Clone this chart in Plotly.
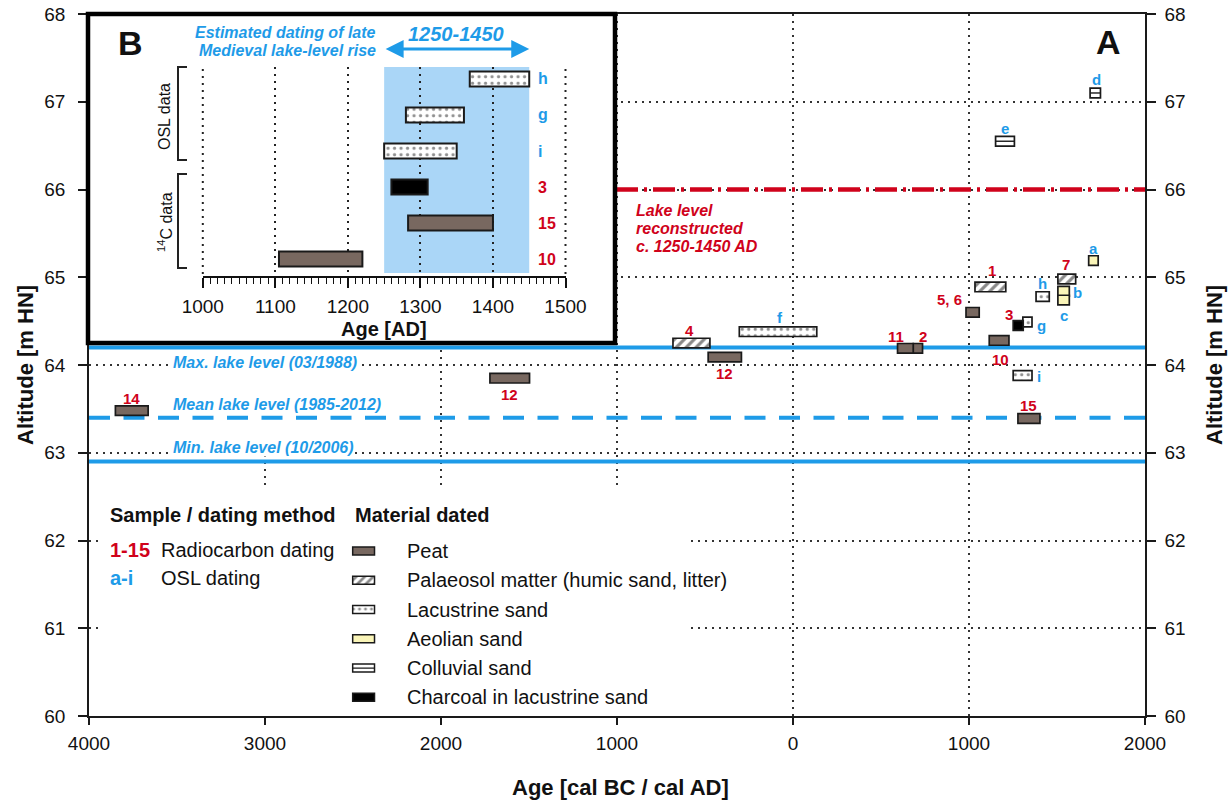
import plotly.graph_objects as go

W, H = 1231, 805

# ---------------------------------------------------------------- data
# Panel A - radiocarbon samples (ages: negative = cal BC, positive = cal AD)
rc_label = ['1', '2', '3', '4', '5, 6', '7', '10', '11', '12', '12', '14', '15']
rc_start = [1034, 683, 1251, -682, 983, 1505, 1115, 594, -1722, -482, -3850, 1278]
rc_end = [1209, 736, 1308, -472, 1058, 1606, 1227, 683, -1497, -293, -3664, 1403]
rc_alt = [64.89, 64.19, 64.45, 64.25, 64.60, 64.98, 64.28, 64.19, 63.85, 64.09, 63.48, 63.39]
rc_material = ['Palaeosol', 'Peat', 'Charcoal', 'Palaeosol', 'Peat', 'Palaeosol',
               'Peat', 'Peat', 'Peat', 'Peat', 'Peat', 'Peat']

# Panel A - OSL samples
osl_label = ['a', 'b', 'c', 'd', 'e', 'f', 'g', 'h', 'i']
osl_start = [1680, 1505, 1505, 1688, 1151, -305, 1306, 1381, 1251]
osl_end = [1734, 1570, 1570, 1747, 1258, 135, 1358, 1456, 1358]
osl_alt = [65.19, 64.84, 64.74, 67.10, 66.55, 64.38, 64.49, 64.78, 63.88]
osl_material = ['Aeolian', 'Aeolian', 'Aeolian', 'Colluvial', 'Colluvial',
                'Lacustrine', 'Lacustrine', 'Lacustrine', 'Lacustrine']

# lake levels [m HN]
lake_max = 64.2
lake_mean = 63.4
lake_min = 62.9
lake_recon = 66.0

# Panel B - late medieval samples
b_label = ['h', 'g', 'i', '3', '15', '10']
b_start = [1368, 1280, 1250, 1260, 1283, 1105]
b_end = [1450, 1360, 1350, 1310, 1400, 1220]
b_material = ['Lacustrine', 'Lacustrine', 'Lacustrine', 'Charcoal', 'Peat', 'Peat']
b_method = ['OSL', 'OSL', 'OSL', '14C', '14C', '14C']
rise_period = [1250, 1450]

material_key = ['Peat', 'Palaeosol', 'Lacustrine', 'Aeolian', 'Colluvial', 'Charcoal']
material_name = ['Peat', 'Palaeosol matter (humic sand, litter)', 'Lacustrine sand',
                 'Aeolian sand', 'Colluvial sand', 'Charcoal in lacustrine sand']

x_tickvals = [-4000, -3000, -2000, -1000, 0, 1000, 2000]
x_ticktext = ['4000', '3000', '2000', '1000', '0', '1000', '2000']
y_tickvals = [60, 61, 62, 63, 64, 65, 66, 67, 68]
b_tickvals = [1000, 1100, 1200, 1300, 1400, 1500]

# ---------------------------------------------------------------- style
FONT = 'Arial, "Liberation Sans", Helvetica, sans-serif'
BLUE = '#1e9be8'
RED = '#d0021b'
INK = '#1a1a1a'
GRID_DASH = '2px,5px'

STYLE = {
    'Peat': dict(color='#786860'),
    'Palaeosol': dict(color='white', pattern=dict(shape='/', fgcolor='#111', bgcolor='white',
                                                  size=7, solidity=0.45)),
    'Lacustrine': dict(color='white', pattern=dict(shape='.', fgcolor='#222', bgcolor='white',
                                                   size=6.5, solidity=0.2)),
    'Aeolian': dict(color='#faf5b8'),
    'Colluvial': dict(color='white'),
    'Charcoal': dict(color='#000000'),
}

# label offsets (px) relative to bar centre: (dx, dy), dy positive = down
LABEL_OFFSET = {
    '1': (2, -16), '2': (5, -12), '3': (-9, -11), '4': (-2, -13), '5, 6': (-23, -13),
    '7': (-1, -15), '10': (1, 19), '11': (-9, -12), '12': (0, 16), '14': (0, -12),
    '15': (0, -13), 'a': (0, -12), 'b': (14, 1), 'c': (0, 15), 'd': (1, -13),
    'e': (0, -13), 'f': (2, -14), 'g': (14, 3), 'h': (0, -13), 'i': (16, 1),
}

# ---------------------------------------------------------------- geometry
MX0, MX1, MY0, MY1 = 89, 1145, 14, 716         # main plot area (px)
X_RANGE = [-4000, 2000]
Y_RANGE = [60, 68]

BX0, BX1 = 202.8, 565.5                          # inset x 1000 / 1500 (px)
B_XRANGE = [1000, 1500]
B_ROW_TOP, B_ROW_BOT = 79, 259                   # rows 5 and 0 (px)
B_TOP, B_BOT = 67, 276

LX0, LX1 = 352.7, 374.5                          # legend swatches (px)
L_ROW_TOP, L_ROW_BOT = 551, 697.3
L_TOP, L_BOT = 540, 708


def px(x):
    return x / W


def py(y):
    return 1 - y / H


def xdat(p):
    return X_RANGE[0] + (p - MX0) / (MX1 - MX0) * (X_RANGE[1] - X_RANGE[0])


def ydat(p):
    return Y_RANGE[1] - (p - MY0) / (MY1 - MY0) * (Y_RANGE[1] - Y_RANGE[0])


def b_xpix(v):
    return BX0 + (v - B_XRANGE[0]) / (B_XRANGE[1] - B_XRANGE[0]) * (BX1 - BX0)


b_unit = (B_ROW_BOT - B_ROW_TOP) / 5.0


def b_ydat(p):
    return (B_ROW_BOT - p) / b_unit


l_unit = (L_ROW_BOT - L_ROW_TOP) / 5.0


def l_ydat(p):
    return (L_ROW_BOT - p) / l_unit


fig = go.Figure()

# ---------------------------------------------------------------- masks (hide grid under inset/legend)
masks = [
    (MX0, 616, 14, 343),
    (100, 688, 490, MY1),
]
for (a, b, c, d) in masks:
    xs = [xdat(a), xdat(b), xdat(b), xdat(a), xdat(a)]
    ys = [ydat(c), ydat(c), ydat(d), ydat(d), ydat(c)]
    fig.add_trace(go.Scatter(x=xs, y=ys, fill='toself', fillcolor='white', mode='none',
                             xaxis='x', yaxis='y', hoverinfo='skip', showlegend=False))
# strip hiding the 3000 BC grid line between min and max lake level
fig.add_trace(go.Scatter(x=[-3025, -2975, -2975, -3025, -3025],
                         y=[63.0, 63.0, lake_max, lake_max, 63.0],
                         fill='toself', fillcolor='white', mode='none',
                         xaxis='x', yaxis='y', hoverinfo='skip', showlegend=False))

# ---------------------------------------------------------------- lake levels
fig.add_trace(go.Scatter(x=X_RANGE, y=[lake_max, lake_max], mode='lines',
                         line=dict(color=BLUE, width=4), xaxis='x', yaxis='y',
                         hoverinfo='skip', showlegend=False))
fig.add_trace(go.Scatter(x=X_RANGE, y=[lake_mean, lake_mean], mode='lines',
                         line=dict(color=BLUE, width=4, dash='21px,13.5px'), xaxis='x', yaxis='y',
                         hoverinfo='skip', showlegend=False))
fig.add_trace(go.Scatter(x=X_RANGE, y=[lake_min, lake_min], mode='lines',
                         line=dict(color=BLUE, width=4), xaxis='x', yaxis='y',
                         hoverinfo='skip', showlegend=False))
fig.add_trace(go.Scatter(x=[xdat(616), X_RANGE[1]], y=[lake_recon, lake_recon], mode='lines',
                         line=dict(color=RED, width=4.5, dash='22px,6px,3px,6px'),
                         xaxis='x', yaxis='y', hoverinfo='skip', showlegend=False))

# ---------------------------------------------------------------- sample bars panel A
all_label = rc_label + osl_label
all_start = rc_start + osl_start
all_end = rc_end + osl_end
all_alt = rc_alt + osl_alt
all_mat = rc_material + osl_material
all_col = [RED] * len(rc_label) + [BLUE] * len(osl_label)

BAR_H = 0.11
for key in material_key:
    idx = [i for i, m in enumerate(all_mat) if m == key]
    if not idx:
        continue
    st = STYLE[key]
    marker = dict(color=st['color'], line=dict(color=INK, width=1.7))
    if 'pattern' in st:
        marker['pattern'] = st['pattern']
    fig.add_trace(go.Bar(
        orientation='h',
        base=[all_start[i] for i in idx],
        x=[all_end[i] - all_start[i] for i in idx],
        y=[all_alt[i] for i in idx],
        width=BAR_H, marker=marker, xaxis='x', yaxis='y5',
        hoverinfo='skip', showlegend=False))

# colluvial sand: middle line
cx, cy = [], []
for i, m in enumerate(all_mat):
    if m == 'Colluvial':
        cx += [all_start[i], all_end[i], None]
        cy += [all_alt[i], all_alt[i], None]
fig.add_trace(go.Scatter(x=cx, y=cy, mode='lines', line=dict(color=INK, width=1.4),
                         xaxis='x', yaxis='y5', hoverinfo='skip', showlegend=False))

annotations = []
for i, lab in enumerate(all_label):
    dx, dy = LABEL_OFFSET[lab]
    annotations.append(dict(
        x=(all_start[i] + all_end[i]) / 2, y=all_alt[i], xref='x', yref='y',
        text='<b>%s</b>' % lab, showarrow=False, xshift=dx, yshift=-dy,
        font=dict(family=FONT, size=15, color=all_col[i])))

# ---------------------------------------------------------------- panel B
n_b = len(b_label)
b_row = [n_b - 1 - i for i in range(n_b)]
for key in material_key:
    idx = [i for i, m in enumerate(b_material) if m == key]
    if not idx:
        continue
    st = STYLE[key]
    marker = dict(color=st['color'], line=dict(color=INK, width=2))
    if 'pattern' in st:
        marker['pattern'] = st['pattern']
    fig.add_trace(go.Bar(
        orientation='h',
        base=[b_start[i] for i in idx],
        x=[b_end[i] - b_start[i] for i in idx],
        y=[b_row[i] for i in idx],
        width=0.42, marker=marker, xaxis='x2', yaxis='y2',
        hoverinfo='skip', showlegend=False))

for i, lab in enumerate(b_label):
    annotations.append(dict(
        x=1459, y=b_row[i], xref='x2', yref='y2', xanchor='left',
        text='<b>%s</b>' % lab, showarrow=False,
        font=dict(family=FONT, size=16, color=BLUE if b_method[i] == 'OSL' else RED)))

# ---------------------------------------------------------------- legend swatches
n_m = len(material_key)
for k, key in enumerate(material_key):
    st = STYLE[key]
    marker = dict(color=st['color'], line=dict(color=INK, width=1.5))
    if 'pattern' in st:
        marker['pattern'] = dict(st['pattern'], size=6)
    row = n_m - 1 - k
    fig.add_trace(go.Bar(orientation='h', base=[0], x=[1], y=[row], width=0.27,
                         marker=marker, xaxis='x4', yaxis='y4',
                         hoverinfo='skip', showlegend=False))
    if key == 'Colluvial':
        fig.add_trace(go.Scatter(x=[0, 1], y=[row, row], mode='lines',
                                 line=dict(color=INK, width=1.3), xaxis='x4', yaxis='y4',
                                 hoverinfo='skip', showlegend=False))
    annotations.append(dict(x=px(405), y=row, xref='paper', yref='y4', xanchor='left',
                            text=material_name[k], showarrow=False,
                            font=dict(family=FONT, size=20, color='#111')))


def txt(x, y, text, size, color='#111', xanchor='center', angle=0):
    annotations.append(dict(x=px(x), y=py(y), xref='paper', yref='paper', text=text,
                            showarrow=False, xanchor=xanchor, yanchor='middle',
                            textangle=angle, font=dict(family=FONT, size=size, color=color)))


# legend headings / dating methods
txt(107.7, 515, '<b>Sample / dating method</b>', 20, xanchor='left')
txt(352.7, 515, '<b>Material dated</b>', 20, xanchor='left')
txt(107.7, 550, '<b>1-15</b>', 20, RED, xanchor='left')
txt(159, 550, 'Radiocarbon dating', 20, xanchor='left')
txt(107.7, 578, '<b>a-i</b>', 20, BLUE, xanchor='left')
txt(159, 578, 'OSL dating', 20, xanchor='left')

# lake level labels
for lab, yy in [('Max. lake level (03/1988)', 362.3),
                ('Mean lake level (1985-2012)', 404),
                ('Min. lake level (10/2006)', 447.3)]:
    annotations.append(dict(x=px(172), y=py(yy), xref='paper', yref='paper', xanchor='left',
                            text='<b><i>%s</i></b>' % lab, showarrow=False, bgcolor='white',
                            borderpad=0, font=dict(family=FONT, size=16, color=BLUE)))

txt(634, 210, '<b><i>Lake level</i></b>', 16, RED, xanchor='left')
txt(634, 228, '<b><i>reconstructed</i></b>', 16, RED, xanchor='left')
txt(634, 246, '<b><i>c. 1250-1450 AD</i></b>', 16, RED, xanchor='left')

# panel letters
txt(1108, 42, '<b>A</b>', 34)
txt(130, 43, '<b>B</b>', 34)

# panel B texts
txt(378, 32, '<b><i>Estimated dating of late</i></b>', 16, BLUE, xanchor='right')
txt(378, 50, '<b><i>Medieval lake-level rise</i></b>', 16, BLUE, xanchor='right')
txt(455.7, 34, '<b><i>%d-%d</i></b>' % (rise_period[0], rise_period[1]), 20, BLUE)
txt(165, 117, 'OSL data', 16, angle=-90)
txt(165, 222, '<sup>14</sup>C data', 16, angle=-90)
txt(384, 329, '<b>Age [AD]</b>', 20)

# double arrow for the rise period
annotations.append(dict(x=rise_period[1], y=py(49), xref='x2', yref='paper',
                        ax=rise_period[0], ay=0, axref='x2', ayref='pixel',
                        text='', showarrow=True, arrowside='end+start', arrowhead=2,
                        arrowsize=1.2, arrowwidth=3, arrowcolor=BLUE,
                        standoff=0, startstandoff=0))

# axis titles
txt(620, 787, '<b>Age [cal BC / cal AD]</b>', 22)
txt(25, 365, '<b>Altitude [m HN]</b>', 22, angle=-90)
txt(1214, 365, '<b>Altitude [m HN]</b>', 22, angle=-90)

# ---------------------------------------------------------------- shapes
shapes = [
    # rise period shading in inset
    dict(type='rect', xref='x2', yref='y2', x0=rise_period[0], x1=rise_period[1],
         y0=b_ydat(273), y1=b_ydat(B_TOP), fillcolor='#aad6f7', line=dict(width=0),
         layer='below'),
]
# inset grid lines at the range ends (plotly omits them at the plot edge)
for v in (B_XRANGE[0], B_XRANGE[1]):
    shapes.append(dict(type='line', xref='paper', yref='paper',
                       x0=px(b_xpix(v)), x1=px(b_xpix(v)), y0=py(B_BOT - 2), y1=py(B_TOP),
                       line=dict(color='#222', width=2, dash=GRID_DASH), layer='above'))
# inset frame
shapes.append(dict(type='rect', xref='paper', yref='paper', x0=px(88), x1=px(615),
                   y0=py(343), y1=py(14), line=dict(color='#000', width=4.5),
                   fillcolor='rgba(0,0,0,0)', layer='above'))
for (t, b) in [(67, 160), (174, 268)]:
    shapes.append(dict(type='path', xref='paper', yref='paper', layer='above',
                       path='M %f %f L %f %f L %f %f L %f %f' % (
                           px(187), py(t), px(178), py(t), px(178), py(b), px(187), py(b)),
                       line=dict(color='#222', width=2)))

# ---------------------------------------------------------------- layout
axis_font = dict(family=FONT, size=19, color='#111')
fig.update_layout(
    width=W, height=H,
    margin=dict(l=0, r=0, t=0, b=0, autoexpand=False),
    paper_bgcolor='white', plot_bgcolor='white',
    barmode='overlay',
    showlegend=False,
    font=dict(family=FONT, color='#111'),
    annotations=annotations,
    shapes=shapes,
    xaxis=dict(domain=[px(MX0), px(MX1)], range=X_RANGE, anchor='y', automargin=False,
               tickvals=x_tickvals, ticktext=x_ticktext, tickfont=axis_font,
               ticks='outside', ticklen=7, tickwidth=1.5, tickcolor=INK,
               showline=True, linecolor=INK, linewidth=1.5, mirror=True,
               showgrid=True, gridcolor='#333', gridwidth=1.8, griddash=GRID_DASH,
               zeroline=False, ticklabelstandoff=2),
    yaxis=dict(domain=[py(MY1), py(MY0)], range=Y_RANGE, anchor='x', automargin=False,
               tickvals=y_tickvals, tickfont=axis_font,
               ticks='outside', ticklen=9, tickwidth=1.5, tickcolor=INK,
               showline=True, linecolor=INK, linewidth=1.5, mirror=True,
               showgrid=True, gridcolor='#333', gridwidth=1.8, griddash=GRID_DASH,
               zeroline=False, ticklabelstandoff=9),
    yaxis5=dict(overlaying='y', side='right', range=Y_RANGE, anchor='x', automargin=False,
                tickvals=y_tickvals, tickfont=axis_font,
                ticks='outside', ticklen=9, tickwidth=1.5, tickcolor=INK,
                showline=True, linecolor=INK, linewidth=1.5,
                showgrid=False, zeroline=False, ticklabelstandoff=5),
    xaxis2=dict(domain=[px(BX0), px(BX1)], range=B_XRANGE, anchor='y2', automargin=False,
                tickvals=b_tickvals, tickfont=axis_font,
                ticks='outside', ticklen=10, tickwidth=1.5, tickcolor='#111',
                minor=dict(dtick=10, tick0=1000, ticks='outside', ticklen=6, tickwidth=1,
                           tickcolor='#111', showgrid=False),
                showline=True, linecolor='#111', linewidth=1.5,
                showgrid=True, gridcolor='#222', gridwidth=2, griddash=GRID_DASH,
                zeroline=False, ticklabelstandoff=2),
    yaxis2=dict(domain=[py(B_BOT), py(B_TOP)], range=[b_ydat(B_BOT), b_ydat(B_TOP)],
                anchor='x2', visible=False, automargin=False),
    xaxis4=dict(domain=[px(LX0 - 2.2), px(LX1 + 2.2)], range=[-0.1, 1.1], anchor='y4',
                visible=False, automargin=False),
    yaxis4=dict(domain=[py(L_BOT), py(L_TOP)], range=[l_ydat(L_BOT), l_ydat(L_TOP)],
                anchor='x4', visible=False, automargin=False),
)

fig.write_html('out.html')
